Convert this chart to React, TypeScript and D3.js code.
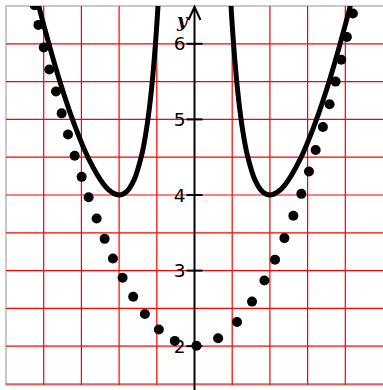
import React from "react";
import * as d3 from "d3";

const W = 383;
const H = 390;

const gridXValues = [-2, -1.5, -1, -0.5, 0.5, 1, 1.5, 2];
const gridYValues = [1.5, 2, 2.5, 3, 3.5, 4, 4.5, 5, 5.5, 6];
const yTicks = [2, 3, 4, 5, 6];
const yTickLabels = ["2", "3", "4", "5", "6"];

// solid curve, right branch (left branch is its mirror image)
const curveX = [0.47, 0.5, 0.55, 0.6, 0.65, 0.7, 0.8, 0.9, 1.0, 1.1, 1.2, 1.4, 1.6, 1.8, 2.0, 2.12];
const curveY = [6.748, 6.25, 5.609, 5.138, 4.789, 4.531, 4.203, 4.045, 4.0, 4.037, 4.134, 4.47, 4.951, 5.549, 6.25, 6.717];

// dotted points
const dotX = [
  -2.12, -2.07, -2.0, -1.926, -1.837, -1.762, -1.678, -1.589, -1.497, -1.404, -1.298, -1.192, -1.082,
  -0.954, -0.813, -0.658, -0.473, -0.261, 0.026, 0.313, 0.564, 0.763, 0.927, 1.068, 1.192, 1.311,
  1.417, 1.518, 1.607, 1.703, 1.792, 1.871, 1.947, 2.021, 2.101,
];
const dotY = [
  6.51, 6.25, 5.95, 5.66, 5.37, 5.08, 4.8, 4.52, 4.24, 3.97, 3.69, 3.42, 3.16,
  2.905, 2.655, 2.425, 2.222, 2.07, 2.007, 2.105, 2.32, 2.59, 2.87, 3.145, 3.43, 3.725,
  4.015, 4.31, 4.595, 4.9, 5.2, 5.5, 5.79, 6.09, 6.4,
];

export default function App() {
  const x = d3.scaleLinear().domain([-2.5, 2.5]).range([6, 383]);
  const y = d3.scaleLinear().domain([1.5, 6.5]).range([384, 6]);

  const line = d3
    .line<[number, number]>()
    .x((d) => x(d[0]))
    .y((d) => y(d[1]))
    .curve(d3.curveCatmullRom.alpha(0.5));

  const right: [number, number][] = curveX.map((v, i) => [v, curveY[i]]);
  const left: [number, number][] = curveX.map((v, i) => [-v, curveY[i]]);

  const ax = x(0);

  return (
    <svg
      width={W}
      height={H}
      style={{ position: "absolute", left: 0, top: 0, background: "#fff" }}
    >
      <defs>
        <clipPath id="plot">
          <rect x={6} y={6} width={377} height={378} />
        </clipPath>
      </defs>
      <rect x={6} y={6} width={378} height={379} fill="#fff" stroke="#c8c8c8" strokeWidth={2} />
      <g stroke="#ff0000" strokeWidth={1.2}>
        {gridXValues.map((v) => (
          <line key={"gx" + v} x1={x(v)} x2={x(v)} y1={6} y2={385} />
        ))}
        {gridYValues.map((v) => (
          <line key={"gy" + v} x1={6} x2={384} y1={y(v)} y2={y(v)} />
        ))}
      </g>
      {/* y axis */}
      <line x1={ax} x2={ax} y1={8} y2={H} stroke="#000" strokeWidth={2} />
      <path
        d={`M${ax - 6},${20} L${ax},${7} L${ax + 6},${20}`}
        fill="none"
        stroke="#000"
        strokeWidth={2}
      />
      {yTicks.map((v, i) => (
        <g key={"t" + v}>
          <line x1={ax - 8} x2={ax + 8} y1={y(v)} y2={y(v)} stroke="#000" strokeWidth={2} />
          <text
            x={ax - 9}
            y={y(v)}
            dy="0.36em"
            textAnchor="end"
            fontFamily="DejaVu Sans"
            fontSize={18.5}
            fill="#000"
          >
            {yTickLabels[i]}
          </text>
        </g>
      ))}
      <text
        x={177}
        y={27}
        fontFamily="DejaVu Serif"
        fontStyle="italic"
        fontWeight="bold"
        fontSize={18}
        fill="#000"
      >
        y
      </text>
      <g clipPath="url(#plot)">
        {dotX.map((v, i) => (
          <circle key={"d" + i} cx={x(v)} cy={y(dotY[i])} r={5} fill="#000" />
        ))}
        <path d={line(left) || ""} fill="none" stroke="#000" strokeWidth={5} />
        <path d={line(right) || ""} fill="none" stroke="#000" strokeWidth={5} />
      </g>
    </svg>
  );
}
